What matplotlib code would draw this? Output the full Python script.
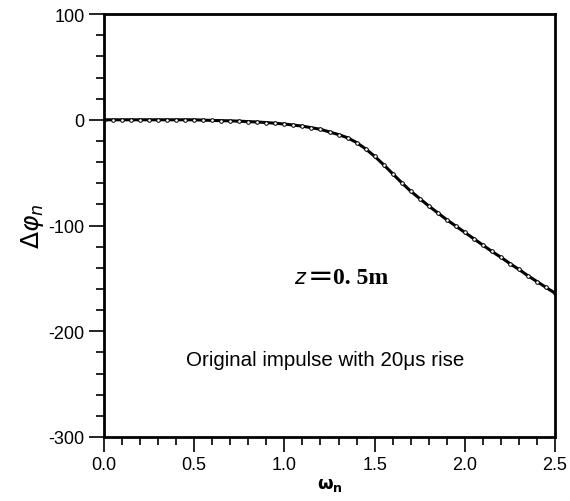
import matplotlib
matplotlib.use("Agg")
import matplotlib.pyplot as plt
from matplotlib.ticker import MultipleLocator

omega_n = [0.00, 0.05, 0.10, 0.15, 0.20, 0.25, 0.30, 0.35, 0.40, 0.45,
           0.50, 0.55, 0.60, 0.65, 0.70, 0.75, 0.80, 0.85, 0.90, 0.95,
           1.00, 1.05, 1.10, 1.15, 1.20, 1.25, 1.30, 1.35, 1.40, 1.45,
           1.50, 1.55, 1.60, 1.65, 1.70, 1.75, 1.80, 1.85, 1.90, 1.95,
           2.00, 2.05, 2.10, 2.15, 2.20, 2.25, 2.30, 2.35, 2.40, 2.45, 2.50]
dphi_n = [0, 0, 0, 0, 0, 0, 0, 0, 0, 0,
          0, -0.3, -0.6, -0.8, -1.0, -1.3, -1.7, -2.1, -2.6, -3.3,
          -4, -5, -6, -7.5, -9, -11.5, -14, -17, -21.5, -27.5,
          -34.5, -42.5, -51, -59.5, -67.5, -74.5, -81.5, -88, -94.5, -100.5,
          -106.5, -112.5, -118.5, -124.5, -130, -136, -141.5, -147.5, -153, -158.5, -164]

x_ticks = [0.0, 0.5, 1.0, 1.5, 2.0, 2.5]
x_ticklabels = ["0.0", "0.5", "1.0", "1.5", "2.0", "2.5"]
y_ticks = [-300, -200, -100, 0, 100]
y_ticklabels = ["-300", "-200", "-100", "0", "100"]

plt.rcParams['font.family'] = ['Liberation Sans', 'DejaVu Sans']

fig = plt.figure(figsize=(5.7, 5.02), dpi=100)
ax = fig.add_axes([0.1825, 0.1275, 0.7912, 0.8425])

ax.plot(omega_n, dphi_n, color='black', lw=2.2, marker='o', ms=2.6,
        mfc='white', mec='black', mew=0.7)

ax.set_xlim(0, 2.5)
ax.set_ylim(-300, 100)
ax.set_xticks(x_ticks)
ax.set_xticklabels(x_ticklabels)
ax.set_yticks(y_ticks)
ax.set_yticklabels(y_ticklabels)
ax.xaxis.set_minor_locator(MultipleLocator(0.1))
ax.yaxis.set_minor_locator(MultipleLocator(20))

for s in ax.spines.values():
    s.set_linewidth(2)
ax.tick_params(which='major', direction='out', length=11, width=1.2,
               labelsize=13, pad=3)
ax.tick_params(which='minor', direction='out', length=6, width=1.2)
ax.tick_params(axis='x', which='both', top=False)
ax.tick_params(axis='y', which='both', right=False)

ax.set_xlabel(r'$\mathbf{\omega_n}$', fontsize=13, labelpad=2)
ax.set_ylabel(r'$\Delta\varphi_n$', fontsize=18, labelpad=2)

ax.text(1.125, -149, r'$z$', fontsize=15, family='DejaVu Serif',
        ha='right', va='center')
ax.text(1.203, -147, '=', fontsize=22, family='DejaVu Sans',
        ha='center', va='center')
ax.text(1.272, -149, '0. 5m', fontsize=17, family='Liberation Serif',
        fontweight='bold', ha='left', va='center')
ax.text(1.225, -227, 'Original impulse with 20\u03bcs rise', fontsize=14.8,
        ha='center', va='center')

fig.savefig('out.png', dpi=100)
